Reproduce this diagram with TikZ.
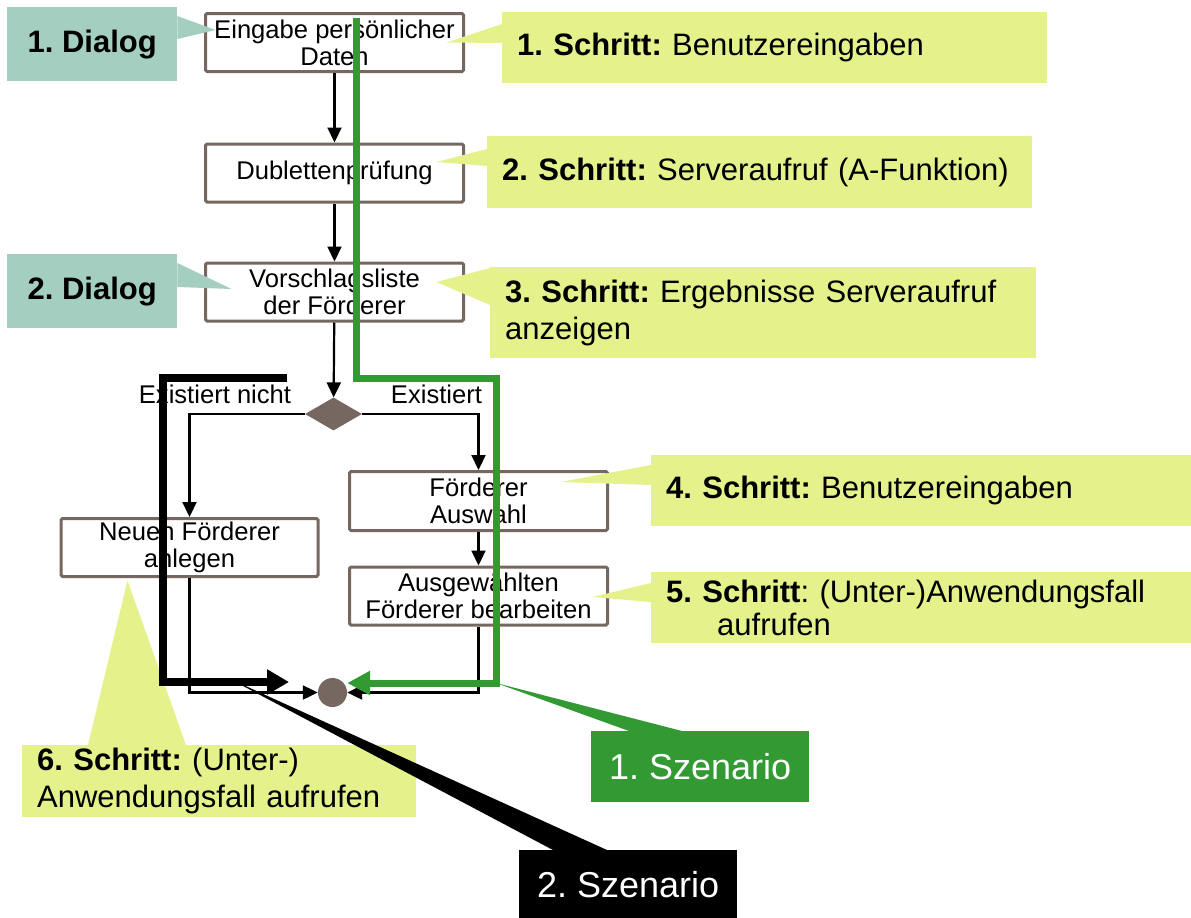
\documentclass[tikz,border=0pt]{standalone}
\usepackage{fontspec}
\setmainfont{Liberation Sans}
\usetikzlibrary{shapes.geometric, arrows.meta, calc}

\definecolor{dlgteal}{RGB}{163,206,192}
\definecolor{stepyellow}{RGB}{229,241,139}
\definecolor{scengreen}{RGB}{51,153,51}
\definecolor{boxbrown}{RGB}{118,104,96}

\tikzset{
  flowbox/.style={draw=boxbrown, line width=3pt, fill=white, rounded corners=1.5pt,
    minimum width=258pt, minimum height=58pt, inner sep=0pt, align=center,
    font=\fontsize{25.6}{27}\selectfont},
  flow/.style={line width=2.2pt, -{Triangle[length=15pt,width=14pt]}},
  lbl/.style={font=\fontsize{25.6}{27}\selectfont, inner sep=0pt},
  callout/.style={anchor=north west, inner xsep=15pt, inner ysep=0pt, align=left,
    font=\fontsize{31}{37}\selectfont},
  dialog/.style={callout, fill=dlgteal, align=center, inner xsep=0pt,
    minimum width=170pt, minimum height=74pt, font=\fontsize{31}{37}\selectfont\bfseries},
  stepnote/.style={callout, fill=stepyellow},
  scenario/.style={anchor=north west, inner sep=0pt, text=white, minimum width=218pt,
    font=\fontsize{36}{40}\selectfont},
}

\begin{document}
\frenchspacing
\begin{tikzpicture}[x=1pt,y=-1pt]
  \useasboundingbox (0,0) rectangle (1191,918);

  % flow
  \node[flowbox] (b1) at (334.5,42.5) {Eingabe persönlicher\\Daten};
  \node[flowbox] (b2) at (334.5,173) {Dublettenprüfung};
  \node[flowbox] (b3) at (334.5,292) {Vorschlagsliste\\der Förderer};
  \node[diamond, fill=boxbrown, minimum width=57pt, minimum height=33pt, inner sep=0pt] (dec) at (333.5,414) {};
  \node[lbl] (nolbl) at (215,394) {Existiert nicht};
  \node[lbl] (yeslbl) at (436.5,394) {Existiert};
  \node[flowbox, minimum height=59pt] (b4) at (478.5,501) {Förderer\\Auswahl};
  \node[flowbox] (b5) at (478.5,596) {Ausgewählten\\Förderer bearbeiten};
  \node[flowbox, minimum width=257pt] (b6) at (189.5,547.5) {Neuen Förderer\\anlegen};
  \node[circle, fill=boxbrown, minimum size=29pt, inner sep=0pt] (merge) at (332.5,692.5) {};

  \draw[flow] (b1) -- (b2);
  \draw[flow] (b2) -- (b3);
  \draw[flow] (b3) -- (dec);
  \draw[flow] (dec.west) -| (b6.north);
  \draw[flow] (dec.east) -| (b4.north);
  \draw[flow] (b4) -- (b5);
  \draw[flow] (b5.south) |- (merge.east);
  \draw[flow] (b6.south) |- (merge.west);

  % notes
  \node[dialog] (dlg1) at (7,7) {1. Dialog};
  \node[dialog] (dlg2) at (7,254) {2. Dialog};
  \node[stepnote, minimum height=71pt, text width=515pt] (st1) at (502,12)
    {{\bfseries 1. Schritt:} Benutzereingaben};
  \node[stepnote, minimum height=72pt, text width=515pt] (st2) at (487,136)
    {{\bfseries 2. Schritt:} Serveraufruf (A-Funktion)};
  \node[stepnote, minimum height=91pt, text width=516pt] (st3) at (490,267)
    {{\bfseries 3. Schritt:} Ergebnisse Serveraufruf\\anzeigen};
  \node[stepnote, minimum height=71pt, text width=510pt] (st4) at (651,455)
    {{\bfseries 4. Schritt:} Benutzereingaben};
  \node[stepnote, minimum height=71pt, text width=510pt, font=\fontsize{31}{33}\selectfont] (st5) at (651,572)
    {{\bfseries 5. Schritt}: (Unter-)Anwendungsfall\\\hspace*{51pt}aufrufen};
  \node[stepnote, minimum height=72pt, text width=364pt] (st6) at (22,745)
    {{\bfseries 6. Schritt:} (Unter-)\\Anwendungsfall aufrufen};
  \node[scenario, fill=scengreen, minimum height=71pt] (sz1) at (591,731) {1. Szenario};
  \node[scenario, fill=black, minimum height=68pt] (sz2) at (519,850) {2. Szenario};

  \fill[dlgteal] ([yshift=-9pt]dlg1.north east) -- ([xshift=11.5pt,yshift=12.5pt]b1.west)
    -- ([yshift=-32pt]dlg1.north east) -- cycle;
  \fill[dlgteal] ([yshift=-9pt]dlg2.north east) -- ([xshift=27.5pt,yshift=3pt]b3.west)
    -- ([yshift=-33pt]dlg2.north east) -- cycle;
  \fill[stepyellow] ([yshift=-12pt]st1.north west) -- ([xshift=-18.5pt]b1.east)
    -- ([yshift=-31pt]st1.north west) -- cycle;
  \fill[stepyellow] ([yshift=-13pt]st2.north west) -- ([xshift=-28.5pt,yshift=11pt]b2.east)
    -- ([yshift=-30pt]st2.north west) -- cycle;
  \fill[stepyellow] ([yshift=-1pt]st3.north west) -- ([xshift=-28.5pt,yshift=10pt]b3.east)
    -- ([yshift=-38pt]st3.north west) -- cycle;
  \fill[stepyellow] ([yshift=-10pt]st4.north west) -- ([xshift=-48.5pt,yshift=19pt]b4.east)
    -- ([yshift=-30pt]st4.north west) -- cycle;
  \fill[stepyellow] ([yshift=-11pt]st5.north west) -- ([xshift=-16.5pt,yshift=-1pt]b5.east)
    -- ([yshift=-30pt]st5.north west) -- cycle;
  \fill[stepyellow] ([xshift=66pt]st6.north west) -- ([xshift=68pt,yshift=-2.5pt]b6.south west)
    -- ([xshift=164pt]st6.north west) -- cycle;

  % scenarios
  \coordinate (g0) at (356,18);
  \coordinate (g1) at (356,378);
  \coordinate (g2) at (496,378);
  \coordinate (g3) at (496,683);
  \coordinate (k0) at (287,378);
  \coordinate (k1) at (163,378);
  \coordinate (k2) at (163,682);
  \coordinate (k3) at (289,682);
  \coordinate (k4) at (228,678);

  \fill[scengreen] (g3) -- ([xshift=38pt]sz1.north west) -- ([xshift=91pt]sz1.north west) -- cycle;
  \fill[black] (k4) -- ([xshift=34pt]sz2.north west) -- ([xshift=88pt]sz2.north west) -- cycle;

  \draw[scengreen, line width=7pt, -{Triangle[length=23pt,width=23pt]}]
    (g0) -- (g1) -- (g2) -- (g3) -- (g3 -| merge.east);
  \draw[black, line width=8pt, -{Triangle[length=22pt,width=24pt]}]
    (k0) -- (k1) -- (k2) -- (k3);
\end{tikzpicture}
\end{document}
